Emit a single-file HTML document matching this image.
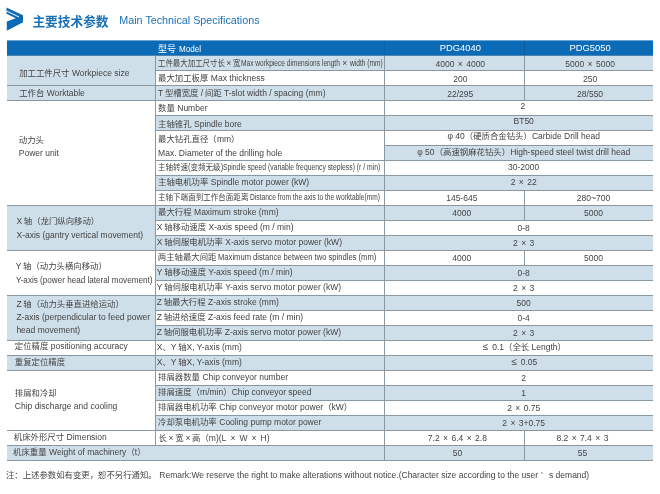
<!DOCTYPE html>
<html lang="zh"><head><meta charset="utf-8"><title>Main Technical Specifications</title>
<style>
html,body{margin:0;padding:0;background:#fff}
body{width:660px;height:494px;position:relative;overflow:hidden;font-family:"Liberation Sans","Noto Sans CJK SC",sans-serif;font-size:8.5px;color:#444444}
.b{position:absolute}
.t{position:absolute;white-space:nowrap;overflow:visible;transform-origin:0 50%}
.z{display:inline-block;position:relative;white-space:nowrap;font-family:"Liberation Sans","Noto Sans CJK SC",sans-serif;font-size:8.4px}
.x{display:inline-block;text-align:center}
.sp{letter-spacing:-.7px}
.sl{letter-spacing:-.25px}
.s{display:inline-block;transform-origin:0 50%}
.c{text-align:center}
.w{color:#fff}
#icon{position:absolute;left:0;top:0}
#t1{position:absolute;left:32.4px;top:13px;font-weight:bold;color:#1b70b6;line-height:18px;white-space:nowrap}
#t2{position:absolute;left:119.3px;top:11px;font-size:10.75px;color:#1b70b6;line-height:18px;white-space:nowrap}
#wrap{position:absolute;left:0;top:0;width:660px;height:494px;will-change:transform}
</style></head><body><div id="wrap">
<svg id="icon" width="32" height="36" viewBox="0 0 32 36"><path d="M6.5 7.6 L23 15.2 L23 22.2 L6.8 30.8 L6.8 21.6 L15.7 18.3 L6.5 13.7 Z" fill="#0b6bb7"/><path d="M6.5 10.4 L19 16.4 L19 17.4 L6.5 11.5 Z" fill="#fff"/></svg>
<div id="t1"><span class="z" style="width:76.2px;font-size:12.7px">主要技术参数</span></div><div id="t2">Main Technical Specifications</div>
<div class="b " style="left:7px;top:40px;width:646px;height:1px;background:#6da6d3"></div>
<div class="b " style="left:7px;top:41px;width:646px;height:15px;background:#0b6bb7"></div>
<div class="b " style="left:7px;top:56px;width:148px;height:30px;background:#cfdfe9"></div>
<div class="b " style="left:7px;top:86px;width:148px;height:15px;background:#cfdfe9"></div>
<div class="b " style="left:7px;top:206px;width:148px;height:45px;background:#cfdfe9"></div>
<div class="b " style="left:7px;top:296px;width:148px;height:45px;background:#cfdfe9"></div>
<div class="b " style="left:7px;top:356px;width:148px;height:15px;background:#cfdfe9"></div>
<div class="b " style="left:7px;top:446px;width:148px;height:15px;background:#cfdfe9"></div>
<div class="b " style="left:155px;top:56px;width:498px;height:15px;background:#cfdfe9"></div>
<div class="b " style="left:155px;top:86px;width:498px;height:15px;background:#cfdfe9"></div>
<div class="b " style="left:155px;top:116px;width:498px;height:15px;background:#cfdfe9"></div>
<div class="b " style="left:384px;top:146px;width:269px;height:15px;background:#cfdfe9"></div>
<div class="b " style="left:155px;top:176px;width:498px;height:15px;background:#cfdfe9"></div>
<div class="b " style="left:155px;top:206px;width:498px;height:15px;background:#cfdfe9"></div>
<div class="b " style="left:155px;top:236px;width:498px;height:15px;background:#cfdfe9"></div>
<div class="b " style="left:155px;top:266px;width:498px;height:15px;background:#cfdfe9"></div>
<div class="b " style="left:155px;top:296px;width:498px;height:15px;background:#cfdfe9"></div>
<div class="b " style="left:155px;top:326px;width:498px;height:15px;background:#cfdfe9"></div>
<div class="b " style="left:155px;top:356px;width:498px;height:15px;background:#cfdfe9"></div>
<div class="b " style="left:155px;top:386px;width:498px;height:15px;background:#cfdfe9"></div>
<div class="b " style="left:155px;top:416px;width:498px;height:15px;background:#cfdfe9"></div>
<div class="b " style="left:155px;top:446px;width:498px;height:15px;background:#cfdfe9"></div>
<div class="b ln" style="left:7px;top:55px;width:646px;height:1px;background:#4a82b0"></div>
<div class="b ln" style="left:155px;top:70px;width:498px;height:1px;background:#8b98a2"></div>
<div class="b ln" style="left:155px;top:85px;width:498px;height:1px;background:#8b98a2"></div>
<div class="b ln" style="left:155px;top:100px;width:498px;height:1px;background:#8b98a2"></div>
<div class="b ln" style="left:155px;top:115px;width:498px;height:1px;background:#8b98a2"></div>
<div class="b ln" style="left:155px;top:130px;width:498px;height:1px;background:#8b98a2"></div>
<div class="b ln" style="left:384px;top:145px;width:269px;height:1px;background:#8b98a2"></div>
<div class="b ln" style="left:155px;top:160px;width:498px;height:1px;background:#8b98a2"></div>
<div class="b ln" style="left:155px;top:175px;width:498px;height:1px;background:#8b98a2"></div>
<div class="b ln" style="left:155px;top:190px;width:498px;height:1px;background:#8b98a2"></div>
<div class="b ln" style="left:155px;top:205px;width:498px;height:1px;background:#8b98a2"></div>
<div class="b ln" style="left:155px;top:220px;width:498px;height:1px;background:#8b98a2"></div>
<div class="b ln" style="left:155px;top:235px;width:498px;height:1px;background:#8b98a2"></div>
<div class="b ln" style="left:155px;top:250px;width:498px;height:1px;background:#8b98a2"></div>
<div class="b ln" style="left:155px;top:265px;width:498px;height:1px;background:#8b98a2"></div>
<div class="b ln" style="left:155px;top:280px;width:498px;height:1px;background:#8b98a2"></div>
<div class="b ln" style="left:155px;top:295px;width:498px;height:1px;background:#8b98a2"></div>
<div class="b ln" style="left:155px;top:310px;width:498px;height:1px;background:#8b98a2"></div>
<div class="b ln" style="left:155px;top:325px;width:498px;height:1px;background:#8b98a2"></div>
<div class="b ln" style="left:155px;top:340px;width:498px;height:1px;background:#8b98a2"></div>
<div class="b ln" style="left:155px;top:355px;width:498px;height:1px;background:#8b98a2"></div>
<div class="b ln" style="left:155px;top:370px;width:498px;height:1px;background:#8b98a2"></div>
<div class="b ln" style="left:155px;top:385px;width:498px;height:1px;background:#8b98a2"></div>
<div class="b ln" style="left:155px;top:400px;width:498px;height:1px;background:#8b98a2"></div>
<div class="b ln" style="left:155px;top:415px;width:498px;height:1px;background:#8b98a2"></div>
<div class="b ln" style="left:155px;top:430px;width:498px;height:1px;background:#8b98a2"></div>
<div class="b ln" style="left:155px;top:445px;width:498px;height:1px;background:#8b98a2"></div>
<div class="b ln" style="left:155px;top:460px;width:498px;height:1px;background:#8b98a2"></div>
<div class="b ln" style="left:7px;top:85px;width:149px;height:1px;background:#8b98a2"></div>
<div class="b ln" style="left:7px;top:100px;width:149px;height:1px;background:#8b98a2"></div>
<div class="b ln" style="left:7px;top:205px;width:149px;height:1px;background:#8b98a2"></div>
<div class="b ln" style="left:7px;top:250px;width:149px;height:1px;background:#8b98a2"></div>
<div class="b ln" style="left:7px;top:295px;width:149px;height:1px;background:#8b98a2"></div>
<div class="b ln" style="left:7px;top:340px;width:149px;height:1px;background:#8b98a2"></div>
<div class="b ln" style="left:7px;top:355px;width:149px;height:1px;background:#8b98a2"></div>
<div class="b ln" style="left:7px;top:370px;width:149px;height:1px;background:#8b98a2"></div>
<div class="b ln" style="left:7px;top:430px;width:149px;height:1px;background:#8b98a2"></div>
<div class="b ln" style="left:7px;top:445px;width:149px;height:1px;background:#8b98a2"></div>
<div class="b ln" style="left:7px;top:460px;width:149px;height:1px;background:#8b98a2"></div>
<div class="b ln" style="left:155px;top:56px;width:1px;height:390px;background:#8b98a2"></div>
<div class="b ln" style="left:384px;top:56px;width:1px;height:405px;background:#8b98a2"></div>
<div class="b ln" style="left:384px;top:41px;width:1px;height:14px;background:#0a62a8"></div>
<div class="b ln" style="left:524px;top:41px;width:1px;height:14px;background:#0a5a9c"></div>
<div class="b ln" style="left:524px;top:56px;width:1px;height:45px;background:#8b98a2"></div>
<div class="b ln" style="left:524px;top:191px;width:1px;height:30px;background:#8b98a2"></div>
<div class="b ln" style="left:524px;top:251px;width:1px;height:15px;background:#8b98a2"></div>
<div class="b ln" style="left:524px;top:431px;width:1px;height:30px;background:#8b98a2"></div>
<div class="t w" style="left:158.1px;top:42px;height:15px;line-height:15px;font-size:9px"><span class="z" style="width:18.2px;font-size:9px">型号</span> <span class="s" style="transform:scaleX(.9)">Model</span></div>
<div class="t c w" style="left:310.3px;width:300px;top:40px;height:15px;line-height:15px;font-size:9.4px">PDG4040</div>
<div class="t c w" style="left:440.1px;width:300px;top:40px;height:15px;line-height:15px;font-size:9.4px">PDG5050</div>
<div class="t " style="left:19.2px;top:58px;height:30px;line-height:30px;"><span class="z" style="width:50.4px">加工工件尺寸</span> Workpiece size</div>
<div class="t " style="left:19.2px;top:86px;height:15px;line-height:15px;"><span class="z" style="width:25.2px">工作台</span> Worktable</div>
<div class="t " style="left:18.8px;top:133px;height:15px;line-height:15px;"><span class="z" style="width:25.2px">动力头</span></div>
<div class="t " style="left:18.8px;top:146px;height:15px;line-height:15px;">Power unit</div>
<div class="t " style="left:16.5px;top:214px;height:15px;line-height:15px;">X<span class="sp"> </span><span class="z" style="width:75.6px">轴（龙门纵向移动）</span></div>
<div class="t " style="left:16.5px;top:228px;height:15px;line-height:15px;">X-axis (gantry vertical movement)</div>
<div class="t " style="left:15.7px;top:259px;height:15px;line-height:15px;">Y<span class="sp"> </span><span class="z" style="width:84.0px">轴（动力头横向移动）</span></div>
<div class="t " style="left:15.7px;top:273px;height:15px;line-height:15px;transform:scaleX(0.955);">Y-axis (power head lateral movement)</div>
<div class="t " style="left:16.4px;top:297px;height:14px;line-height:14px;">Z<span class="sp"> </span><span class="z" style="width:100.8px">轴（动力头垂直进给运动）</span></div>
<div class="t " style="left:16.4px;top:310px;height:14px;line-height:14px;">Z-axis (perpendicular to feed power</div>
<div class="t " style="left:16.4px;top:323px;height:14px;line-height:14px;">head movement)</div>
<div class="t " style="left:14.8px;top:339px;height:15px;line-height:15px;"><span class="z" style="width:33.6px">定位精度</span> positioning accuracy</div>
<div class="t " style="left:14.8px;top:355px;height:15px;line-height:15px;"><span class="z" style="width:50.4px">重复定位精度</span></div>
<div class="t " style="left:14.8px;top:386px;height:15px;line-height:15px;"><span class="z" style="width:42.0px">排屑和冷却</span></div>
<div class="t " style="left:14.8px;top:399px;height:15px;line-height:15px;">Chip discharge and cooling</div>
<div class="t " style="left:13.8px;top:430px;height:15px;line-height:15px;"><span class="z" style="width:50.4px">机床外形尺寸</span> Dimension</div>
<div class="t " style="left:13.1px;top:445px;height:15px;line-height:15px;"><span class="z" style="width:33.6px">机床重量</span> Weight of machinery<span class="z" style="width:8.4px">（</span>t<span class="z" style="width:8.4px">）</span></div>
<div class="t " style="left:158.1px;top:71px;height:15px;line-height:15px;"><span class="z" style="width:50.4px">最大加工板厚</span> Max thickness</div>
<div class="t " style="left:158.1px;top:86px;height:15px;line-height:15px;">T<span class="sp"> </span><span class="z" style="width:33.6px">型槽宽度</span><span class="sl"> / </span><span class="z" style="width:16.8px">间距</span> T-slot width / spacing (mm)</div>
<div class="t " style="left:158.1px;top:101px;height:15px;line-height:15px;"><span class="z" style="width:16.8px">数量</span> Number</div>
<div class="t " style="left:158.1px;top:117px;height:15px;line-height:15px;"><span class="z" style="width:33.6px">主轴锥孔</span> Spindle bore</div>
<div class="t " style="left:158.1px;top:132px;height:15px;line-height:15px;"><span class="z" style="width:58.8px">最大钻孔直径（</span>mm<span class="z" style="width:8.4px">）</span></div>
<div class="t " style="left:158.1px;top:146px;height:15px;line-height:15px;">Max. Diameter of the drilling hole</div>
<div class="t " style="left:158.1px;top:175px;height:15px;line-height:15px;"><span class="z" style="width:50.4px">主轴电机功率</span> Spindle motor power (kW)</div>
<div class="t " style="left:158.1px;top:205px;height:15px;line-height:15px;"><span class="z" style="width:33.6px">最大行程</span> Maximum stroke (mm)</div>
<div class="t " style="left:156.8px;top:220px;height:15px;line-height:15px;">X<span class="sp"> </span><span class="z" style="width:42.0px">轴移动速度</span> X-axis speed (m / min)</div>
<div class="t " style="left:156.8px;top:235px;height:15px;line-height:15px;">X<span class="sp"> </span><span class="z" style="width:58.8px">轴伺服电机功率</span> X-axis servo motor power (kW)</div>
<div class="t " style="left:156.8px;top:265px;height:15px;line-height:15px;">Y<span class="sp"> </span><span class="z" style="width:42.0px">轴移动速度</span> Y-axis speed (m / min)</div>
<div class="t " style="left:156.8px;top:280px;height:15px;line-height:15px;">Y<span class="sp"> </span><span class="z" style="width:58.8px">轴伺服电机功率</span> Y-axis servo motor power (kW)</div>
<div class="t " style="left:156.8px;top:295px;height:15px;line-height:15px;">Z<span class="sp"> </span><span class="z" style="width:42.0px">轴最大行程</span> Z-axis stroke (mm)</div>
<div class="t " style="left:156.8px;top:310px;height:15px;line-height:15px;">Z<span class="sp"> </span><span class="z" style="width:42.0px">轴进给速度</span> Z-axis feed rate (m / min)</div>
<div class="t " style="left:156.8px;top:325px;height:15px;line-height:15px;">Z<span class="sp"> </span><span class="z" style="width:58.8px">轴伺服电机功率</span> Z-axis servo motor power (kW)</div>
<div class="t " style="left:156.8px;top:340px;height:15px;line-height:15px;">X<span class="z" style="width:8.4px">、</span>Y<span class="sp"> </span><span class="z" style="width:8.4px">轴</span>X, Y-axis (mm)</div>
<div class="t " style="left:156.8px;top:355px;height:15px;line-height:15px;">X<span class="z" style="width:8.4px">、</span>Y<span class="sp"> </span><span class="z" style="width:8.4px">轴</span>X, Y-axis (mm)</div>
<div class="t " style="left:158.1px;top:370px;height:15px;line-height:15px;"><span class="z" style="width:42.0px">排屑器数量</span> Chip conveyor number</div>
<div class="t " style="left:158.1px;top:385px;height:15px;line-height:15px;"><span class="z" style="width:42.0px">排屑速度（</span>m/min<span class="z" style="width:8.4px">）</span>Chip conveyor speed</div>
<div class="t " style="left:158.1px;top:400px;height:15px;line-height:15px;"><span class="z" style="width:58.8px">排屑器电机功率</span> Chip conveyor motor power<span class="z" style="width:8.4px">（</span>kW<span class="z" style="width:8.4px">）</span></div>
<div class="t " style="left:158.1px;top:415px;height:15px;line-height:15px;"><span class="z" style="width:58.8px">冷却泵电机功率</span> Cooling pump motor power</div>
<div class="t " style="left:158.1px;top:56px;height:15px;line-height:15px;transform:scaleX(0.887);"><span class="z" style="width:75.6px">工件最大加工尺寸长</span></div>
<div class="t " style="left:226.2px;top:56px;height:15px;line-height:15px;">×</div>
<div class="t " style="left:232.7px;top:56px;height:15px;line-height:15px;transform:scaleX(0.887);"><span class="z" style="width:8.4px">宽</span></div>
<div class="t " style="left:240.6px;top:56px;height:15px;line-height:15px;transform:scaleX(0.775);">Max workpiece dimensions length</div>
<div class="t " style="left:342.2px;top:56px;height:15px;line-height:15px;">×</div>
<div class="t " style="left:349.6px;top:56px;height:15px;line-height:15px;transform:scaleX(0.778);">width (mm)</div>
<div class="t " style="left:157.6px;top:160px;height:15px;line-height:15px;transform:scaleX(0.895);"><span class="z" style="width:33.6px">主轴转速</span>(<span class="z" style="width:33.6px">变频无级</span>)</div>
<div class="t " style="left:223.3px;top:160px;height:15px;line-height:15px;transform:scaleX(0.8);">Spindle speed (variable frequency stepless) (r / min)</div>
<div class="t " style="left:157.6px;top:190px;height:15px;line-height:15px;transform:scaleX(0.9);"><span class="z" style="width:100.8px">主轴下端面到工作台面距离</span></div>
<div class="t " style="left:250px;top:190px;height:15px;line-height:15px;transform:scaleX(0.782);">Distance from the axis to the worktable(mm)</div>
<div class="t " style="left:157.79999999999998px;top:250px;height:15px;line-height:15px;"><span class="z" style="width:58.8px">两主轴最大间距</span></div>
<div class="t " style="left:218.2px;top:250px;height:15px;line-height:15px;transform:scaleX(0.896);">Maximum distance between two spindles (mm)</div>
<div class="t" style="left:158.5px;top:431px;height:15px;line-height:15px"><span class="z" style="width:8.4px">长</span><span class="x" style="width:8.4px">×</span><span class="z" style="width:8.4px">宽</span><span class="x" style="width:8.4px">×</span><span class="z" style="width:16.8px">高（</span>m)(L<span class="x" style="width:13.1px">×</span>W<span class="x" style="width:13.1px">×</span>H)</div>
<div class="t c " style="left:310.3px;width:300px;top:57px;height:15px;line-height:15px;">4000<span class="x" style="width:11.8px">×</span>4000</div>
<div class="t c " style="left:440.1px;width:300px;top:57px;height:15px;line-height:15px;">5000<span class="x" style="width:11.8px">×</span>5000</div>
<div class="t c " style="left:310.3px;width:300px;top:72px;height:15px;line-height:15px;">200</div>
<div class="t c " style="left:440.1px;width:300px;top:72px;height:15px;line-height:15px;">250</div>
<div class="t c " style="left:310.3px;width:300px;top:87px;height:15px;line-height:15px;">22/295</div>
<div class="t c " style="left:440.1px;width:300px;top:87px;height:15px;line-height:15px;">28/550</div>
<div class="t c " style="left:372.9px;width:300px;top:99px;height:15px;line-height:15px;">2</div>
<div class="t c " style="left:373.70000000000005px;width:300px;top:114px;height:15px;line-height:15px;">BT50</div>
<div class="t c " style="left:373.70000000000005px;width:300px;top:129px;height:15px;line-height:15px;">φ 40<span class="z" style="width:67.2px">（硬质合金钻头）</span>Carbide Drill head</div>
<div class="t c " style="left:373.70000000000005px;width:300px;top:145px;height:15px;line-height:15px;">φ 50<span class="z" style="width:75.6px">（高速钢麻花钻头）</span>High-speed steel twist drill head</div>
<div class="t c " style="left:373.70000000000005px;width:300px;top:160px;height:15px;line-height:15px;">30-2000</div>
<div class="t c " style="left:373.70000000000005px;width:300px;top:175px;height:15px;line-height:15px;">2<span class="x" style="width:11.8px">×</span>22</div>
<div class="t c " style="left:311.8px;width:300px;top:191px;height:15px;line-height:15px;">145-645</div>
<div class="t c " style="left:443.5px;width:300px;top:191px;height:15px;line-height:15px;">280~700</div>
<div class="t c " style="left:311.8px;width:300px;top:206px;height:15px;line-height:15px;">4000</div>
<div class="t c " style="left:443.5px;width:300px;top:206px;height:15px;line-height:15px;">5000</div>
<div class="t c " style="left:373.70000000000005px;width:300px;top:221px;height:15px;line-height:15px;">0-8</div>
<div class="t c " style="left:373.70000000000005px;width:300px;top:236px;height:15px;line-height:15px;">2<span class="x" style="width:11.8px">×</span>3</div>
<div class="t c " style="left:311.8px;width:300px;top:251px;height:15px;line-height:15px;">4000</div>
<div class="t c " style="left:443.5px;width:300px;top:251px;height:15px;line-height:15px;">5000</div>
<div class="t c " style="left:373.70000000000005px;width:300px;top:266px;height:15px;line-height:15px;">0-8</div>
<div class="t c " style="left:373.70000000000005px;width:300px;top:281px;height:15px;line-height:15px;">2<span class="x" style="width:11.8px">×</span>3</div>
<div class="t c " style="left:373.70000000000005px;width:300px;top:296px;height:15px;line-height:15px;">500</div>
<div class="t c " style="left:373.70000000000005px;width:300px;top:311px;height:15px;line-height:15px;">0-4</div>
<div class="t c " style="left:373.70000000000005px;width:300px;top:326px;height:15px;line-height:15px;">2<span class="x" style="width:11.8px">×</span>3</div>
<div class="t c " style="left:373.70000000000005px;width:300px;top:340px;height:15px;line-height:15px;"><span class="x" style="width:8.4px;font-size:10px;line-height:1">≤</span> 0.1<span class="z" style="width:25.2px">（全长</span> Length<span class="z" style="width:8.4px">）</span></div>
<div class="t c " style="left:373.70000000000005px;width:300px;top:355px;height:15px;line-height:15px;"><span class="x" style="width:8.4px;font-size:10px;line-height:1">≤</span> 0.05</div>
<div class="t c " style="left:373.70000000000005px;width:300px;top:371px;height:15px;line-height:15px;">2</div>
<div class="t c " style="left:373.70000000000005px;width:300px;top:386px;height:15px;line-height:15px;">1</div>
<div class="t c " style="left:373.70000000000005px;width:300px;top:401px;height:15px;line-height:15px;">2<span class="x" style="width:11.8px">×</span>0.75</div>
<div class="t c " style="left:373.70000000000005px;width:300px;top:416px;height:15px;line-height:15px;">2<span class="x" style="width:11.8px">×</span>3+0.75</div>
<div class="t c " style="left:307.4px;width:300px;top:431px;height:15px;line-height:15px;">7.2<span class="x" style="width:11.8px">×</span>6.4<span class="x" style="width:11.8px">×</span>2.8</div>
<div class="t c " style="left:432.4px;width:300px;top:431px;height:15px;line-height:15px;">8.2<span class="x" style="width:11.8px">×</span>7.4<span class="x" style="width:11.8px">×</span>3</div>
<div class="t c " style="left:307.4px;width:300px;top:446px;height:15px;line-height:15px;">50</div>
<div class="t c " style="left:432.4px;width:300px;top:446px;height:15px;line-height:15px;">55</div>
<div class="t " style="left:6px;top:468px;height:15px;line-height:15px;"><span class="z" style="width:151.2px">注：上述参数如有变更，恕不另行通知。</span></div>
<div class="t " style="left:159.3px;top:468px;height:15px;line-height:15px;">Remark:We reserve the right to make alterations without notice.(Character size according to the user</div>
<div class="t " style="left:541px;top:468px;height:15px;line-height:15px;"><span class="z" style="width:8.4px">’</span></div>
<div class="t " style="left:549px;top:468px;height:15px;line-height:15px;">s demand)</div>
</div></body></html>
